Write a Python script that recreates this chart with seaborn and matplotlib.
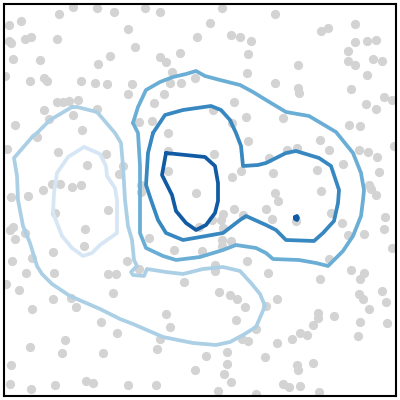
import matplotlib
matplotlib.use("Agg")
import matplotlib.pyplot as plt
import seaborn as sns
import pandas as pd

# gray background points (pixel-like coordinates, y downwards)
points = [
    (73, 7), (97, 8), (114, 12), (59, 14), (21, 21), (9, 25), (128, 29), (31, 37), (25, 39),
    (57, 39), (9, 41), (11, 43), (110, 56), (13, 59), (40, 60), (98, 64), (5, 76), (30, 81),
    (44, 78), (47, 81), (81, 81), (95, 83), (107, 84), (132, 84), (128, 94), (57, 102),
    (63, 102), (69, 101), (78, 100), (44, 110), (97, 109), (73, 115), (49, 119), (15, 125),
    (82, 130),
    (145, 8), (160, 12), (222, 8), (210, 23), (197, 37), (231, 35), (240, 37), (251, 41),
    (135, 47), (180, 53), (160, 57), (166, 62), (248, 54), (172, 72), (195, 78), (170, 83),
    (181, 83), (247, 73), (164, 94), (154, 103), (234, 102), (213, 110), (246, 117),
    (139, 122), (152, 121), (232, 123), (168, 133),
    (275, 14), (321, 31), (328, 28), (355, 24), (355, 42), (367, 41), (376, 40), (348, 51),
    (348, 61), (355, 65), (373, 59), (382, 61), (298, 65), (367, 75), (275, 83), (298, 88),
    (299, 93), (351, 89), (384, 97), (392, 100), (366, 104), (376, 109), (283, 118),
    (349, 125), (360, 126),
    (37, 137), (7, 149), (58, 152), (106, 154), (87, 165), (123, 166), (119, 174), (60, 184),
    (52, 184), (81, 185), (72, 187), (43, 190), (28, 196), (11, 197), (55, 213), (108, 210),
    (13, 227), (10, 230), (25, 233), (85, 229), (15, 239), (84, 246), (53, 252), (12, 261),
    (32, 258), (127, 261),
    (248, 141), (168, 151), (214, 154), (168, 171), (241, 171), (232, 177), (141, 185),
    (141, 192), (196, 193), (234, 209), (266, 209), (223, 214), (243, 215), (221, 220),
    (212, 220), (199, 227), (223, 228), (149, 238), (222, 240), (231, 241), (174, 250),
    (202, 251), (222, 246), (247, 261), (215, 265),
    (320, 140), (329, 150), (359, 150), (368, 152), (377, 157), (394, 146), (287, 150),
    (297, 148), (269, 158), (343, 164), (317, 170), (273, 173), (379, 172), (369, 185),
    (371, 189), (376, 195), (321, 191), (275, 193), (278, 201), (331, 213), (272, 219),
    (296, 221), (342, 223), (385, 217), (384, 229), (348, 235), (364, 234), (392, 248),
    (329, 259),
    (26, 273), (54, 273), (108, 274), (116, 274), (6, 284), (19, 290), (113, 293), (53, 299),
    (71, 298), (32, 309), (76, 307), (101, 322), (117, 333), (65, 340), (30, 347), (62, 353),
    (103, 353), (11, 365), (10, 384), (31, 389), (55, 385), (86, 381), (93, 383), (128, 385),
    (139, 269), (215, 271), (184, 282), (219, 292), (230, 295), (237, 299), (245, 307),
    (266, 306), (166, 314), (236, 320), (170, 327), (256, 329), (160, 339), (242, 339),
    (248, 341), (157, 349), (206, 356), (227, 352), (265, 357), (227, 364), (195, 370),
    (224, 374), (231, 382), (156, 385), (218, 391), (256, 394),
    (268, 273), (351, 270), (364, 273), (360, 279), (320, 279), (359, 294), (363, 299),
    (382, 291), (386, 302), (277, 299), (369, 309), (318, 313), (318, 318), (334, 316),
    (313, 325), (360, 322), (387, 323), (300, 333), (307, 335), (292, 339), (358, 336),
    (277, 343), (313, 363), (297, 365), (298, 370), (283, 384), (289, 387), (300, 386),
    (319, 392),
]

# density contour lines, level 1 (lowest) .. 5 (highest)
level1 = [(84, 147), (100, 154), (106, 166), (107, 176), (115, 188), (117, 200), (117, 233),
          (100, 245), (92, 253), (83, 256), (72, 248), (62, 236), (53, 213), (54, 193),
          (57, 173), (68, 157), (84, 147)]
level2 = [(72, 107), (77, 107), (97, 112), (115, 133), (121, 143), (123, 166), (125, 200),
          (128, 226), (132, 240), (134, 260), (137, 266), (131, 272), (133, 275), (144, 276),
          (147, 269), (166, 272), (183, 274), (203, 269), (223, 267), (240, 271), (251, 283),
          (260, 294), (265, 306), (256, 327), (243, 335), (230, 342), (216, 345), (193, 343),
          (163, 337), (133, 324), (120, 319), (100, 309), (70, 296), (52, 284), (42, 274),
          (37, 266), (30, 243), (23, 226), (18, 200), (17, 176), (14, 158), (33, 136),
          (37, 133), (50, 120), (72, 107)]
level3 = [(133, 123), (138, 107), (146, 90), (160, 82), (173, 77), (186, 74), (196, 71),
          (205, 76), (220, 80), (240, 85), (253, 92), (266, 100), (286, 112), (309, 116),
          (336, 132), (353, 153), (361, 173), (364, 190), (363, 200), (361, 216), (353, 236),
          (343, 251), (328, 266), (316, 263), (299, 260), (273, 259), (266, 253), (256, 248),
          (236, 245), (223, 250), (200, 257), (176, 260), (163, 256), (146, 248), (140, 233),
          (140, 166), (138, 133), (133, 123)]
level4 = [(153, 133), (165, 115), (183, 110), (211, 106), (221, 110), (230, 120), (236, 133),
          (241, 146), (243, 166), (258, 165), (266, 163), (286, 153), (296, 151), (319, 158),
          (331, 166), (339, 190), (338, 203), (334, 221), (323, 233), (314, 241), (286, 240),
          (276, 230), (266, 225), (246, 216), (240, 220), (223, 233), (206, 236), (183, 240),
          (166, 233), (158, 220), (151, 200), (146, 185), (148, 153), (153, 133)]
level5 = [(166, 153), (205, 157), (215, 166), (218, 183), (218, 201), (215, 213), (206, 225),
          (196, 230), (186, 223), (176, 211), (172, 195), (162, 175), (166, 153)]
level5_dot = [(295, 217), (297, 216), (298, 218), (297, 220), (295, 219), (295, 217)]

contours = [(1, level1), (2, level2), (3, level3), (4, level4), (5, level5), (5, level5_dot)]

rows = []
for path_id, (lvl, path) in enumerate(contours):
    for order, (x, y) in enumerate(path):
        rows.append({"path": path_id, "level": lvl, "order": order, "x": x, "y": y})
df_lines = pd.DataFrame(rows)
df_pts = pd.DataFrame(points, columns=["x", "y"])

sns.set_style("white")

fig = plt.figure(figsize=(4, 4), dpi=100)
ax = fig.add_axes([0.01, 0.01, 0.98, 0.98])

sns.scatterplot(data=df_pts, x="x", y="y", color="#d3d3d3", s=44, linewidth=0, ax=ax, zorder=1)
sns.lineplot(data=df_lines, x="x", y="y", hue="level", units="path", estimator=None,
             sort=False, palette=sns.color_palette("Blues", 5), linewidth=2.7,
             legend=False, ax=ax, zorder=2)

ax.set_xlim(4, 396)
ax.set_ylim(396, 4)
ax.set_xticks([])
ax.set_yticks([])
ax.set_xlabel("")
ax.set_ylabel("")
for sp in ax.spines.values():
    sp.set_color("black")
    sp.set_linewidth(1.5)

fig.savefig("out.png", dpi=100)
